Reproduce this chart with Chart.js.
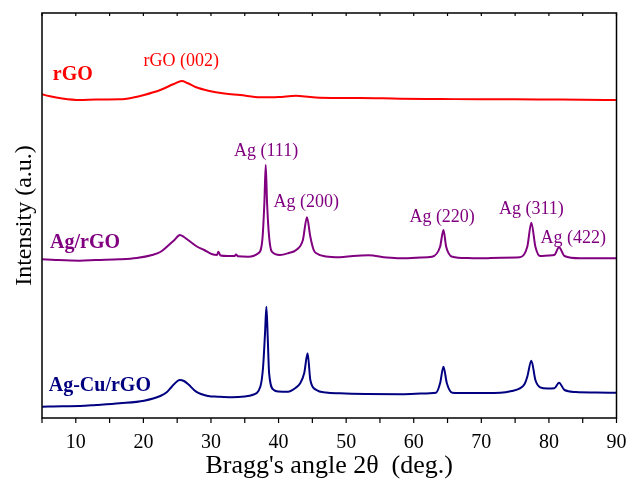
<!DOCTYPE html>
<html>
<head>
<meta charset="utf-8">
<script src="https://cdn.jsdelivr.net/npm/chart.js@4.4.1/dist/chart.umd.min.js"></script>
<style>
  html, body { margin: 0; padding: 0; background: #fff; }
  #wrap { width: 628px; height: 482px; }
</style>
</head>
<body>
<div id="wrap"><canvas id="xrd" width="628" height="482"></canvas></div>
<script>
// 2θ values (deg.) and intensities (a.u., already stacked with offsets)
const rgoAngle = [5, 6, 8, 10.6, 13, 16.5, 18.5, 20.1, 22.5, 24.5, 25.7, 26.5, 27.8, 29.6, 32, 34.3, 37.3, 40, 42.6, 44, 46.1, 52, 58, 64, 69.8, 75, 80, 85, 90];
const rgoInt = [323.7, 322, 319.5, 318, 318.5, 318.7, 320.5, 323, 328, 334, 337, 335, 330.7, 327.3, 324.5, 323, 320.7, 321, 322.3, 321.5, 320.3, 320, 319.3, 319, 318.7, 318.7, 318.5, 318.3, 318];

const agAngle = [5, 7, 10.6, 13, 16.5, 19, 21.3, 22.5, 23.6, 24.6, 25.4, 26, 26.6, 27.8, 29, 30.2, 30.9, 31.1, 31.4, 32.5, 33.5, 33.7, 34, 35.5, 37, 37.6, 37.9, 38.1, 38.3, 38.6, 39, 40.2, 41.5, 42.6, 43.6, 44.2, 44.7, 45.2, 45.6, 47, 49.1, 51, 53.3, 56, 58, 61, 62.7, 63.9, 64.4, 64.8, 65.7, 68, 69.8, 73, 75.7, 76.8, 77.4, 78, 78.7, 80, 80.8, 81.5, 82.3, 84.6, 87, 90];
const agInt = [158.7, 158, 157.3, 158, 158.7, 160, 163, 166, 172, 178, 183, 181, 178, 172, 168, 163.7, 163, 166.3, 162.5, 162, 162, 163.5, 161.7, 161.3, 164.7, 178, 215, 253, 215, 181.3, 166.3, 163, 165, 168, 178, 200.7, 181.3, 168, 164.7, 161.5, 160.7, 162, 162.7, 160.5, 159.7, 160.5, 161.3, 171.3, 188, 171.3, 161.3, 160, 159.7, 160.3, 160.7, 171.3, 195.3, 171.3, 162, 162.5, 163, 170.7, 162, 159.7, 159.7, 159.7];

const agcuAngle = [5, 8, 10.6, 13, 16.5, 20.1, 22.5, 23.5, 24.2, 25.4, 26, 26.6, 27.8, 29.6, 31, 33.1, 35, 36.1, 37.3, 37.7, 38, 38.2, 38.4, 38.6, 39.3, 40, 41.4, 42.5, 43.2, 43.8, 44.3, 44.7, 45.6, 47, 49.1, 53, 58, 61, 63.3, 63.9, 64.4, 64.9, 65.7, 68, 72.8, 74.5, 75.7, 76.4, 76.8, 77.4, 78, 78.7, 79.8, 80.8, 81.5, 82.3, 84, 87, 90];
const agcuInt = [11.3, 11.8, 12, 13, 14.7, 17.3, 22, 26, 31.3, 38, 37, 34, 26.3, 22, 21.3, 20.7, 21.5, 23, 31.3, 50, 85, 111.3, 80, 45, 28, 26.5, 26.3, 30, 34.7, 45, 64.7, 38, 28, 25.5, 24.7, 24, 23.7, 24.5, 25.3, 34.7, 51.3, 34.7, 25.3, 25, 25.3, 27, 29.7, 34, 41.3, 57.3, 38, 30.7, 29.5, 29.7, 35.3, 28, 26, 25.5, 25.3];

const seriesNames = ['rGO', 'Ag/rGO', 'Ag-Cu/rGO'];
const seriesColors = ['#ff0000', '#800080', '#000080'];

// peak labels: text, 2θ, intensity position of the label
const peakText = ['rGO (002)', 'Ag (111)', 'Ag (200)', 'Ag (220)', 'Ag (311)', 'Ag (422)'];
const peakAngle = [25.6, 38.15, 44.1, 64.2, 77.4, 83.6];
const peakLevel = [357, 267, 216, 201, 209, 180];
const peakColor = ['#ff0000', '#800080', '#800080', '#800080', '#800080', '#800080'];

// sample name labels: 2θ of left edge, intensity of centre
const nameAngle = [6.6, 6.2, 6.0];
const nameLevel = [343, 175, 32];

const SERIF = '"Liberation Serif", "DejaVu Serif", serif';

let toPoints = (xs, ys) => xs.map((x, i) => ({x: x, y: ys[i]}));

let textPlugin = {
  id: 'xrdText',
  afterDatasetsDraw(chart) {
    let ctx = chart.ctx;
    let xs = chart.scales.x;
    let ys = chart.scales.y;
    let area = chart.chartArea;
    ctx.save();
    // marco
    ctx.strokeStyle = '#000';
    ctx.lineWidth = 1.5;
    ctx.strokeRect(area.left, area.top, area.right - area.left, area.bottom - area.top);
    // ticks abajo (hacia fuera) y arriba (hacia dentro)
    ctx.lineWidth = 1.2;
    for (let v = 5; v <= 90; v += 5) {
      let px = xs.getPixelForValue(v);
      ctx.beginPath();
      ctx.moveTo(px, area.bottom);
      ctx.lineTo(px, area.bottom + 5);
      ctx.moveTo(px, area.top);
      ctx.lineTo(px, area.top + 3);
      ctx.stroke();
    }
    // etiquetas de picos
    ctx.font = '18px ' + SERIF;
    ctx.textAlign = 'center';
    ctx.textBaseline = 'middle';
    peakText.forEach((t, i) => {
      ctx.fillStyle = peakColor[i];
      ctx.fillText(t, xs.getPixelForValue(peakAngle[i]), ys.getPixelForValue(peakLevel[i]));
    });
    // nombres de muestras
    ctx.font = 'bold 20px ' + SERIF;
    ctx.textAlign = 'left';
    seriesNames.forEach((n, i) => {
      ctx.fillStyle = seriesColors[i];
      ctx.fillText(n, xs.getPixelForValue(nameAngle[i]), ys.getPixelForValue(nameLevel[i]));
    });
    ctx.restore();
  }
};

let config = {
  type: 'line',
  data: {
    datasets: [
      { label: seriesNames[0], data: toPoints(rgoAngle, rgoInt), borderColor: seriesColors[0] },
      { label: seriesNames[1], data: toPoints(agAngle, agInt), borderColor: seriesColors[1] },
      { label: seriesNames[2], data: toPoints(agcuAngle, agcuInt), borderColor: seriesColors[2] }
    ]
  },
  options: {
    responsive: false,
    animation: false,
    parsing: false,
    elements: {
      line: { borderWidth: 2, cubicInterpolationMode: 'monotone', fill: false },
      point: { radius: 0 }
    },
    layout: { padding: { top: 13, right: 11.5, left: 0, bottom: 0 } },
    plugins: { legend: { display: false }, tooltip: { enabled: false } },
    scales: {
      x: {
        type: 'linear',
        min: 5,
        max: 90,
        grid: { display: false, drawTicks: false },
        border: { display: false },
        ticks: {
          color: '#000',
          padding: 13,
          maxRotation: 0,
          font: { family: SERIF, size: 20 }
        },
        afterBuildTicks: axis => {
          axis.ticks = [10, 20, 30, 40, 50, 60, 70, 80, 90].map(v => ({value: v}));
        },
        title: {
          display: true,
          text: "Bragg's angle 2θ  (deg.)",
          color: '#000',
          font: { family: SERIF, size: 26 },
          padding: { top: 0, bottom: 0 }
        },
        afterFit: axis => {
          axis.height = 64;
          axis.paddingLeft = 0;
          axis.paddingRight = 0;
        }
      },
      y: {
        min: 0,
        max: 405,
        grid: { display: false },
        border: { display: false },
        ticks: { display: false },
        title: {
          display: true,
          text: 'Intensity (a.u.)',
          color: '#000',
          font: { family: SERIF, size: 24 },
          padding: { top: 10, bottom: 0 }
        },
        afterFit: axis => { axis.width = 42; }
      }
    }
  },
  plugins: [textPlugin]
};

new Chart(document.getElementById('xrd'), config);
</script>
</body>
</html>
